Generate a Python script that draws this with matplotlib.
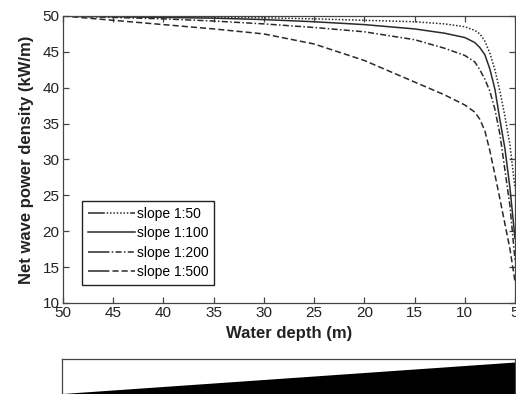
import matplotlib
matplotlib.use('Agg')
import matplotlib.pyplot as plt
from matplotlib.lines import Line2D
import numpy as np

# water depth nodes (m) and net wave power density (kW/m) per slope
depth = [50, 45, 40, 35, 30, 25, 20, 15, 12, 10, 9, 8.5, 8, 7.5, 7, 6.5, 6, 5.5, 5]
p_50 = [50.0, 49.95, 49.9, 49.85, 49.75, 49.6, 49.4, 49.2, 48.9, 48.5, 48.0, 47.5, 46.5, 44.8, 42.5, 39.5, 36.0, 32.0, 26.0]
p_100 = [50.0, 49.9, 49.8, 49.7, 49.5, 49.2, 48.8, 48.2, 47.6, 47.0, 46.3, 45.6, 44.6, 42.6, 39.8, 35.5, 31.5, 26.0, 19.0]
p_200 = [50.0, 49.8, 49.6, 49.3, 48.9, 48.4, 47.8, 46.7, 45.5, 44.5, 43.6, 42.5, 41.2, 39.5, 37.0, 33.5, 28.5, 23.5, 16.0]
p_500 = [50.0, 49.4, 48.8, 48.2, 47.5, 46.1, 43.8, 40.8, 39.0, 37.6, 36.6, 35.6, 34.0, 31.2, 27.9, 24.5, 21.0, 17.5, 13.0]
labels = ['slope 1:50', 'slope 1:100', 'slope 1:200', 'slope 1:500']
dash_sets = [(1, 1.2), None, (4, 1.5, 1, 1.5), (4, 2)]

plt.rcParams.update({'font.family': 'Liberation Sans', 'font.size': 11})
W, H = 516, 394
fig = plt.figure(figsize=(W/100, H/100), dpi=100)
ax = fig.add_axes([63/W, 1-303/H, (515-63)/W, (303-16)/H])
handles = []
for y, ds in zip([p_50, p_100, p_200, p_500], dash_sets):
    ln, = ax.plot(depth, y, color='#2a2a2a', lw=1.1)
    if ds is not None:
        ln.set_dashes(ds)
        # legend sample: short solid lead-in, then the line pattern
        h = Line2D([], [], color='#2a2a2a', lw=1.1, dashes=[10, 0.01] + list(ds) * 8)
    else:
        h = Line2D([], [], color='#2a2a2a', lw=1.1)
    handles.append(h)
ax.set_xlim(50, 5); ax.set_ylim(10, 50)
ax.set_xticks(np.arange(50, 4, -5)); ax.set_yticks(np.arange(10, 51, 5))
ax.tick_params(direction='in', top=True, right=True, length=4, width=0.9, colors='#444', labelcolor='#222', pad=2.5)
for sp in ax.spines.values(): sp.set_color('#444'); sp.set_linewidth(0.9)
ax.set_xlabel('Water depth (m)', fontweight='bold', fontsize=12, color='#222', labelpad=4)
ax.set_ylabel('Net wave power density (kW/m)', fontweight='bold', fontsize=12, color='#222', labelpad=6)
leg = ax.legend(handles, labels, loc='upper left', bbox_to_anchor=(82/W, 1-201/H), bbox_transform=fig.transFigure,
                fancybox=False, edgecolor='#222', framealpha=1, handlelength=3.4, handletextpad=0.15,
                labelspacing=0.4, borderpad=0.4, borderaxespad=0, fontsize=10)
leg.get_frame().set_linewidth(1.0)

# seabed profile sketch below the chart
ax2 = fig.add_axes([62/W, 1-402/H, (515-62)/W, (402-359)/H])
xs = np.array(depth, dtype=float)
ax2.fill_between(xs, -xs, -70, color='black', lw=0)
ax2.set_xlim(50, 5); ax2.set_ylim(-62.1, -0.7)
ax2.set_xticks([]); ax2.set_yticks([])
for sp in ax2.spines.values(): sp.set_color('#444'); sp.set_linewidth(0.9)

fig.savefig('out.png', dpi=100)
